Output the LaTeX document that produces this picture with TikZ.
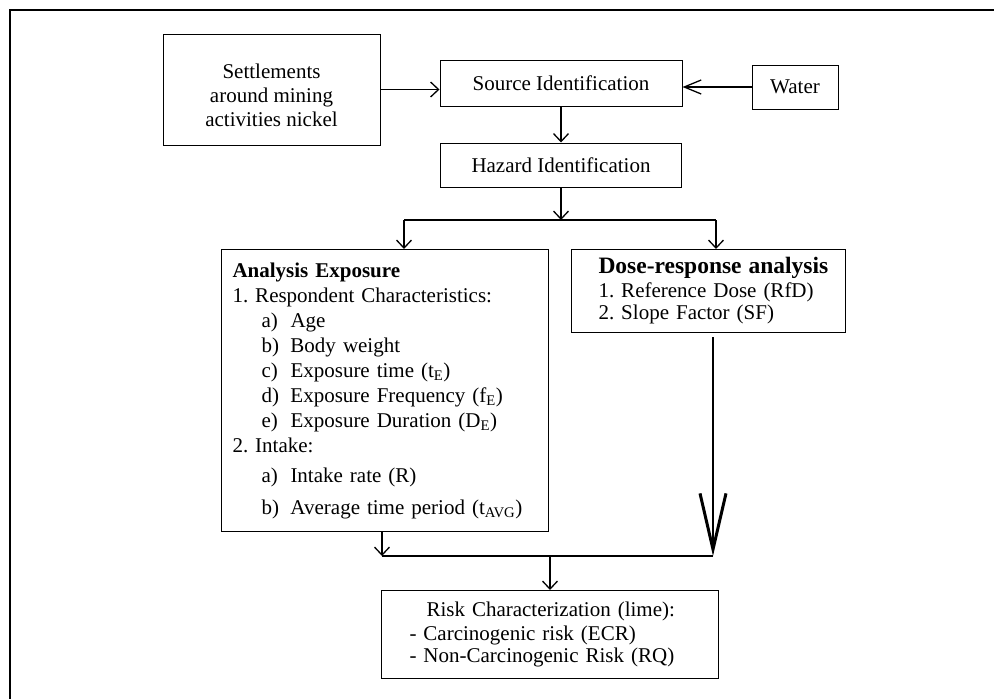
\documentclass[tikz,border=0pt]{standalone}
\usepackage{fontspec}
\setmainfont{Liberation Serif}
\usetikzlibrary{arrows.meta,positioning}
\newcommand{\expitem}[1]{\hspace*{29pt}\makebox[29pt][l]{#1}}
\frenchspacing

\begin{document}
\begin{tikzpicture}[
  x=1pt, y=-1pt,
  node distance=36pt,
  box/.style={
    rectangle, draw, line width=1pt, inner sep=0pt,
    font=\fontsize{21}{24}\selectfont
  },
  listbox/.style={box, anchor=north west, align=left},
  line/.style={line width=1.3pt},
  arrow/.style={-{Straight Barb[length=8pt,width=15pt,line width=1.3pt]}, line width=1.3pt},
  longarrow/.style={-{Straight Barb[length=17pt,width=14pt,line width=1.3pt]}, line width=1.3pt},
  bigarrow/.style={-{Straight Barb[length=56pt,width=26pt,line width=3pt]}, line width=2.5pt}
]
  \useasboundingbox (0,0) rectangle (994,699);
  \draw[line width=2.5pt] (10,699) -- (10,10) -- (994,10);

  \node[box, minimum width=217pt, minimum height=111pt, align=center] (settle) at (271.5,89.5)
    {\rule{0pt}{26pt}Settlements\\around mining\\activities nickel};
  \node[box, minimum width=242pt, minimum height=46pt] (source) at (561,83) {Source Identification};
  \node[box, minimum width=86pt, minimum height=44pt] (water) at (795,87) {Water};
  \node[box, minimum width=241pt, minimum height=44pt, below=of source] (hazard) {Hazard Identification};

  \node[listbox, minimum width=327pt, minimum height=282pt, text width=305pt, inner xsep=11pt,
    font=\fontsize{21}{25}\selectfont] (expo) at (221,249)
    {\textbf{Analysis Exposure}\\
     1. Respondent Characteristics:\\
     \expitem{a)}Age\\
     \expitem{b)}Body weight\\
     \expitem{c)}Exposure time (t\textsubscript{E})\\
     \expitem{d)}Exposure Frequency (f\textsubscript{E})\\
     \expitem{e)}Exposure Duration (D\textsubscript{E})\\
     2. Intake:\\[5pt]
     \expitem{a)}Intake rate (R)\\[7pt]
     \expitem{b)}Average time period (t\textsubscript{AVG})};

  \node[listbox, minimum width=274pt, minimum height=83pt, text width=274pt] (dose) at (571,249)
    {\hspace*{27pt}{\fontsize{23.5}{24}\selectfont\bfseries Dose-response analysis}\\
     \hspace*{27pt}1. Reference Dose (RfD)\\[-2pt]
     \hspace*{27pt}2. Slope Factor (SF)};

  \node[listbox, minimum width=337pt, minimum height=88pt, text width=337pt] (risk) at (381,590)
    {\hspace*{45pt}Risk Characterization (lime):\\
     \hspace*{28pt}- Carcinogenic risk (ECR)\\[-2pt]
     \hspace*{28pt}- Non-Carcinogenic Risk (RQ)};

  % split and join points
  \coordinate (splitL) at (404,220);
  \coordinate (splitR) at (716,220);
  \coordinate (joinL) at (382,556);
  \coordinate (joinR) at (713,556);

  \draw[arrow] (settle.east) -- (settle.east -| source.west);
  \draw[longarrow] (water.west) -- (water.west -| source.east);
  \draw[arrow] (source.south) -- (source.south |- hazard.north);
  \draw[arrow] (hazard.south) -- (hazard.south |- splitL);
  \draw[line] (splitL) -- (splitR);
  \draw[arrow] (splitL) -- (splitL |- expo.north);
  \draw[arrow] (splitR) -- (splitR |- dose.north);

  \draw[arrow] (joinL |- expo.south) -- (joinL);
  \draw[bigarrow] ([yshift=-4pt]joinR |- dose.south) -- (joinR);
  \draw[line] (joinL) -- (joinR);
  \draw[arrow] (risk.north |- joinL) -- (risk.north);
\end{tikzpicture}
\end{document}
